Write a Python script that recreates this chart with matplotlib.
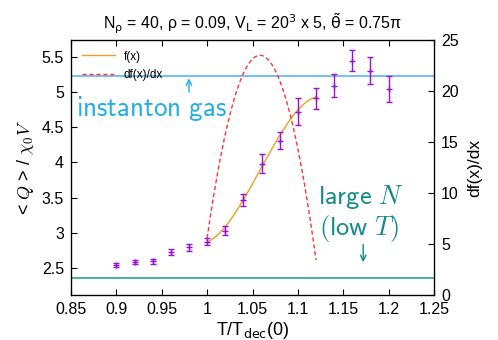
import numpy as np
import matplotlib
matplotlib.use("Agg")
import matplotlib.pyplot as plt

# ---- data ----
T_ratio = [0.90, 0.92, 0.94, 0.96, 0.98, 1.00, 1.02, 1.04, 1.06, 1.08, 1.10, 1.12, 1.14, 1.16, 1.18, 1.20]
Q_chi = [2.547, 2.585, 2.600, 2.735, 2.800, 2.877, 3.033, 3.47, 3.98, 4.31, 4.72, 4.91, 5.09, 5.445, 5.30, 5.04]
Q_err = [0.033, 0.028, 0.035, 0.043, 0.050, 0.052, 0.064, 0.085, 0.135, 0.12, 0.19, 0.15, 0.165, 0.147, 0.19, 0.18]

# fit f(x): cubic with parabolic derivative (parameters)
fit_range = [1.00, 1.12]
f_start = 2.87        # f(1.00)
slope_peak = 23.5     # max of df/dx
x_peak = 1.0583       # position of max slope
curv = 5274.0         # df/dx = slope_peak - curv*(x-x_peak)^2

instanton_level = 5.232
largeN_level = 2.358

xticks = [0.85, 0.9, 0.95, 1.0, 1.05, 1.1, 1.15, 1.2, 1.25]
yticks = [2.5, 3.0, 3.5, 4.0, 4.5, 5.0, 5.5]
y2ticks = [0, 5, 10, 15, 20, 25]

plt.rcParams['font.family'] = ['Liberation Sans', 'DejaVu Sans']
plt.rcParams['mathtext.fontset'] = 'cm'

fig = plt.figure(figsize=(4.98, 3.40), dpi=100)
ax = fig.add_axes([71/498, 1-295/340, (434-71)/498, (295-40)/340])
ax2 = ax.twinx()

xs = np.linspace(fit_range[0], fit_range[1], 200)
dfx = slope_peak - curv*(xs - x_peak)**2
fx = f_start + slope_peak*(xs - fit_range[0]) - curv/3.0*((xs - x_peak)**3 - (fit_range[0] - x_peak)**3)

blue_line = '#5bb8ea'
blue_text = '#22aee8'
green_line = '#22a985'
green_text = '#138c88'

ax.axhline(instanton_level, color=blue_line, lw=1.2, zorder=1)
ax.axhline(largeN_level, color=green_line, lw=1.2, zorder=1)

l1, = ax.plot(xs, fx, color='#f0a020', lw=1.0, zorder=3, label='f(x)')
l2, = ax2.plot(xs, dfx, color='#ff3333', lw=1.0, ls=(0, (3, 2)), zorder=3, label='df(x)/dx')

ax.errorbar(T_ratio, Q_chi, yerr=Q_err, fmt='+', color='#9a10d8', ms=4, mew=1.0,
            elinewidth=1.0, capsize=2.2, capthick=1.0, zorder=4)

ax.set_xlim(0.85, 1.25)
ax.set_ylim(2.121, 5.737)
ax2.set_ylim(0, 25)
ax.set_xticks(xticks)
ax.set_xticklabels(['%g' % v for v in xticks])
ax.set_yticks(yticks)
ax.set_yticklabels(['%g' % v for v in yticks])
ax2.set_yticks(y2ticks)
ax2.set_yticklabels(['%g' % v for v in y2ticks])

for a in (ax, ax2):
    a.tick_params(direction='in', length=4.5, width=0.8, labelsize=11.5, pad=5)
ax.tick_params(axis='x', top=True)
ax.tick_params(axis='y', right=False)
for s in ax.spines.values():
    s.set_linewidth(0.9)

ax.set_xlabel(r'T/T$_{\mathrm{dec}}$(0)', fontsize=13, labelpad=2, math_fontfamily='dejavusans')
ax.set_ylabel(r'< $Q$ > / $\chi_0 V$', fontsize=13, labelpad=4)
ax2.set_ylabel('df(x)/dx', fontsize=12.5, labelpad=6)
ax.set_title(r'N$_{\mathrm{ρ}}$ = 40, ρ = 0.09, V$_{\mathrm{L}}$ = 20$^3$ x 5, $\tilde{\mathrm{θ}}$ = 0.75π',
             fontsize=11.5, pad=8, math_fontfamily='dejavusans')

ax.legend(handles=[l1, l2], loc='upper left', bbox_to_anchor=(0.0, 1.0), frameon=False,
          fontsize=8.5, handlelength=2.8, handletextpad=0.75, labelspacing=0.55,
          borderaxespad=0.5)

ax.text(0.939, 4.66, r'$\mathsf{instanton\ gas}$', color=blue_text, fontsize=19.5,
        ha='center', va='baseline')
ax.annotate('', xy=(0.98, instanton_level), xytext=(0.98, 4.96),
            arrowprops=dict(arrowstyle='->', color=blue_text, lw=1.0))

ax.text(1.1225, 3.41, r'$\mathsf{large}\ N$', color=green_text, fontsize=19, ha='left', va='baseline')
ax.text(1.123, 2.97, r'$\mathsf{(low}\ T\mathsf{)}$', color=green_text, fontsize=19, ha='left', va='baseline')
ax.annotate('', xy=(1.172, 2.547), xytext=(1.172, 2.877),
            arrowprops=dict(arrowstyle='->', color=green_text, lw=1.0))

fig.savefig('out.png', dpi=100)
